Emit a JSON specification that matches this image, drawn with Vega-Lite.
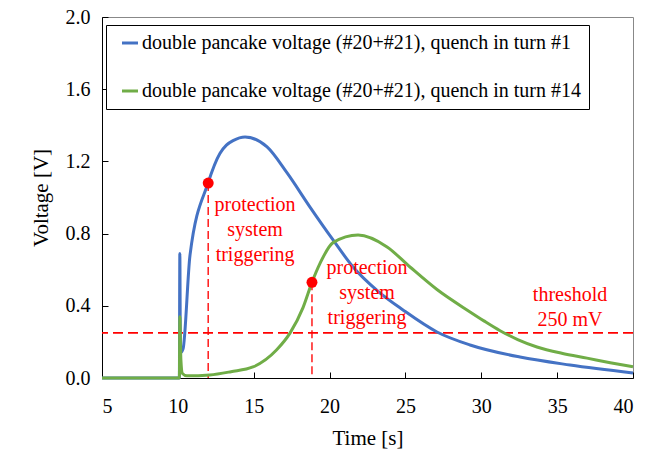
{
  "$schema": "https://vega.github.io/schema/vega-lite/v6.json",
  "width": 531,
  "height": 361,
  "autosize": {"type": "none"},
  "padding": {"left": 102, "top": 17, "right": 35, "bottom": 77},
  "config": {
    "font": "Liberation Serif",
    "view": {"stroke": "#888888", "strokeWidth": 1},
    "axis": {
      "grid": false,
      "domainColor": "#000000",
      "domainWidth": 1,
      "tickColor": "#000000",
      "tickSize": -6,
      "labelFontSize": 20,
      "titleFontSize": 21,
      "labelColor": "#000000",
      "titleColor": "#000000",
      "titleFontWeight": "normal",
      "labelFont": "Liberation Serif",
      "titleFont": "Liberation Serif"
    }
  },
  "datasets": {
    "curves": [
      {"s": "double pancake voltage (#20+#21), quench in turn #1", "t": 5, "v": 0},
      {"s": "double pancake voltage (#20+#21), quench in turn #1", "t": 10.1, "v": 0},
      {"s": "double pancake voltage (#20+#21), quench in turn #1", "t": 10.13, "v": 0.69},
      {"s": "double pancake voltage (#20+#21), quench in turn #1", "t": 10.17, "v": 0.14},
      {"s": "double pancake voltage (#20+#21), quench in turn #1", "t": 10.34, "v": 0.16},
      {"s": "double pancake voltage (#20+#21), quench in turn #1", "t": 10.8, "v": 0.68},
      {"s": "double pancake voltage (#20+#21), quench in turn #1", "t": 11.99, "v": 1.08},
      {"s": "double pancake voltage (#20+#21), quench in turn #1", "t": 12.78, "v": 1.245},
      {"s": "double pancake voltage (#20+#21), quench in turn #1", "t": 13.2, "v": 1.29},
      {"s": "double pancake voltage (#20+#21), quench in turn #1", "t": 13.64, "v": 1.315},
      {"s": "double pancake voltage (#20+#21), quench in turn #1", "t": 14.43, "v": 1.335},
      {"s": "double pancake voltage (#20+#21), quench in turn #1", "t": 15.88, "v": 1.28},
      {"s": "double pancake voltage (#20+#21), quench in turn #1", "t": 17.2, "v": 1.136},
      {"s": "double pancake voltage (#20+#21), quench in turn #1", "t": 18.71, "v": 0.947},
      {"s": "double pancake voltage (#20+#21), quench in turn #1", "t": 20.23, "v": 0.765},
      {"s": "double pancake voltage (#20+#21), quench in turn #1", "t": 21.55, "v": 0.615},
      {"s": "double pancake voltage (#20+#21), quench in turn #1", "t": 23.2, "v": 0.48},
      {"s": "double pancake voltage (#20+#21), quench in turn #1", "t": 24.84, "v": 0.377},
      {"s": "double pancake voltage (#20+#21), quench in turn #1", "t": 27.08, "v": 0.255},
      {"s": "double pancake voltage (#20+#21), quench in turn #1", "t": 29.26, "v": 0.183},
      {"s": "double pancake voltage (#20+#21), quench in turn #1", "t": 32.55, "v": 0.116},
      {"s": "double pancake voltage (#20+#21), quench in turn #1", "t": 35.85, "v": 0.072},
      {"s": "double pancake voltage (#20+#21), quench in turn #1", "t": 40, "v": 0.028},
      {"s": "double pancake voltage (#20+#21), quench in turn #14", "t": 5, "v": 0},
      {"s": "double pancake voltage (#20+#21), quench in turn #14", "t": 10.1, "v": 0},
      {"s": "double pancake voltage (#20+#21), quench in turn #14", "t": 10.13, "v": 0.34},
      {"s": "double pancake voltage (#20+#21), quench in turn #14", "t": 10.2, "v": 0.1},
      {"s": "double pancake voltage (#20+#21), quench in turn #14", "t": 10.3, "v": 0.025},
      {"s": "double pancake voltage (#20+#21), quench in turn #14", "t": 10.6, "v": 0.012},
      {"s": "double pancake voltage (#20+#21), quench in turn #14", "t": 12.1, "v": 0.017},
      {"s": "double pancake voltage (#20+#21), quench in turn #14", "t": 13.5, "v": 0.035},
      {"s": "double pancake voltage (#20+#21), quench in turn #14", "t": 14.95, "v": 0.061},
      {"s": "double pancake voltage (#20+#21), quench in turn #14", "t": 16.5, "v": 0.155},
      {"s": "double pancake voltage (#20+#21), quench in turn #14", "t": 17.4, "v": 0.25},
      {"s": "double pancake voltage (#20+#21), quench in turn #14", "t": 18.25, "v": 0.39},
      {"s": "double pancake voltage (#20+#21), quench in turn #14", "t": 18.84, "v": 0.53},
      {"s": "double pancake voltage (#20+#21), quench in turn #14", "t": 19.37, "v": 0.635},
      {"s": "double pancake voltage (#20+#21), quench in turn #14", "t": 20.23, "v": 0.75},
      {"s": "double pancake voltage (#20+#21), quench in turn #14", "t": 21.88, "v": 0.792},
      {"s": "double pancake voltage (#20+#21), quench in turn #14", "t": 23.79, "v": 0.726},
      {"s": "double pancake voltage (#20+#21), quench in turn #14", "t": 25.3, "v": 0.615},
      {"s": "double pancake voltage (#20+#21), quench in turn #14", "t": 27.08, "v": 0.49},
      {"s": "double pancake voltage (#20+#21), quench in turn #14", "t": 29.26, "v": 0.366},
      {"s": "double pancake voltage (#20+#21), quench in turn #14", "t": 30.2, "v": 0.315},
      {"s": "double pancake voltage (#20+#21), quench in turn #14", "t": 31.24, "v": 0.262},
      {"s": "double pancake voltage (#20+#21), quench in turn #14", "t": 32.4, "v": 0.213},
      {"s": "double pancake voltage (#20+#21), quench in turn #14", "t": 33.67, "v": 0.172},
      {"s": "double pancake voltage (#20+#21), quench in turn #14", "t": 35.3, "v": 0.137},
      {"s": "double pancake voltage (#20+#21), quench in turn #14", "t": 36.97, "v": 0.11},
      {"s": "double pancake voltage (#20+#21), quench in turn #14", "t": 38.5, "v": 0.085},
      {"s": "double pancake voltage (#20+#21), quench in turn #14", "t": 40, "v": 0.062}
    ],
    "triggers": [
      {"t": 12.0, "v": 1.08},
      {"t": 18.84, "v": 0.53}
    ],
    "threshold": [{"v": 0.25}],
    "notes": [
      {"t": 15.09, "v": 0.958, "label": "protection\nsystem\ntriggering"},
      {"t": 22.47, "v": 0.609, "label": "protection\nsystem\ntriggering"},
      {"t": 35.85, "v": 0.46, "label": "threshold\n250 mV"}
    ]
  },
  "layer": [
    {
      "data": {"name": "threshold"},
      "mark": {"type": "rule", "color": "#FF0000", "strokeWidth": 1.8, "strokeDash": [10, 5]},
      "encoding": {
        "y": {"field": "v", "type": "quantitative", "scale": {"domain": [0, 2]}}
      }
    },
    {
      "data": {"name": "triggers"},
      "mark": {"type": "rule", "color": "#FF0000", "strokeWidth": 1.5, "strokeDash": [8, 4], "opacity": 0.9},
      "encoding": {
        "x": {"field": "t", "type": "quantitative"},
        "y": {"field": "v", "type": "quantitative"},
        "y2": {"datum": 0}
      }
    },
    {
      "data": {"name": "curves"},
      "mark": {"type": "line", "strokeWidth": 3, "interpolate": "monotone"},
      "encoding": {
        "x": {
          "field": "t",
          "type": "quantitative",
          "scale": {"domain": [5, 40], "nice": false, "zero": false},
          "axis": {"title": "Time [s]", "values": [5, 10, 15, 20, 25, 30, 35, 40], "labelPadding": 24, "titlePadding": 11}
        },
        "y": {
          "field": "v",
          "type": "quantitative",
          "scale": {"domain": [0, 2], "nice": false},
          "axis": {"title": "Voltage [V]", "values": [0, 0.4, 0.8, 1.2, 1.6, 2.0], "format": ".1f", "labelPadding": 18, "titlePadding": 14}
        },
        "color": {
          "field": "s",
          "type": "nominal",
          "scale": {
            "domain": ["double pancake voltage (#20+#21), quench in turn #1", "double pancake voltage (#20+#21), quench in turn #14"],
            "range": ["#4472C4", "#70AD47"]
          },
          "legend": {
            "title": null,
            "orient": "none",
            "legendX": 4,
            "legendY": 8,
            "strokeColor": "#000000",
            "fillColor": "#FFFFFF",
            "padding": 8,
            "rowPadding": 28,
            "labelFontSize": 20,
            "labelFont": "Liberation Serif",
            "labelColor": "#000000",
            "labelLimit": 0,
            "symbolType": "stroke",
            "symbolSize": 256,
            "symbolStrokeWidth": 3,
            "symbolOffset": 6,
            "labelOffset": 2
          }
        },
        "order": {"field": "s", "type": "nominal"}
      }
    },
    {
      "data": {"name": "triggers"},
      "mark": {"type": "point", "filled": true, "color": "#FF0000", "size": 120, "opacity": 1},
      "encoding": {
        "x": {"field": "t", "type": "quantitative"},
        "y": {"field": "v", "type": "quantitative"}
      }
    },
    {
      "data": {"name": "notes"},
      "mark": {"type": "text", "color": "#FF0000", "fontSize": 20, "font": "Liberation Serif", "align": "center", "baseline": "middle", "lineBreak": "\n", "lineHeight": 25},
      "encoding": {
        "x": {"field": "t", "type": "quantitative"},
        "y": {"field": "v", "type": "quantitative"},
        "text": {"field": "label"}
      }
    }
  ]
}
